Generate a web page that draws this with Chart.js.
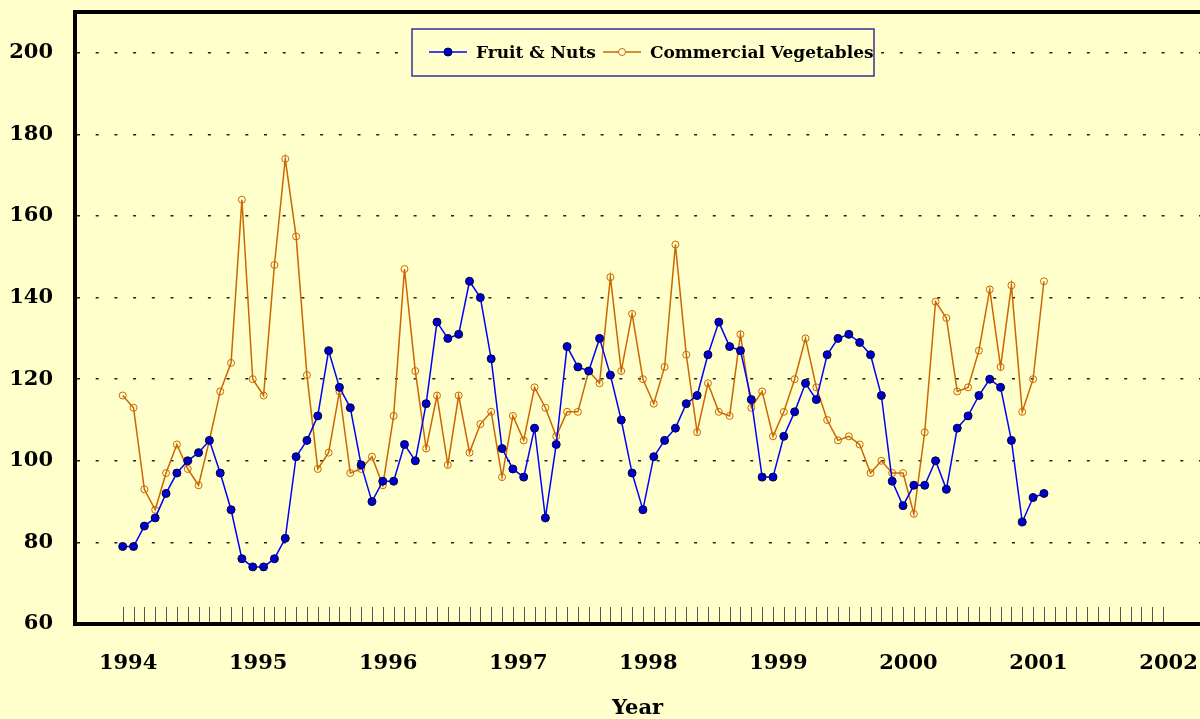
<!DOCTYPE html>
<html>
<head>
<meta charset="utf-8">
<script src="https://cdn.jsdelivr.net/npm/chart.js@4.4.0/dist/chart.umd.min.js"></script>
<style>
  html, body { margin: 0; padding: 0; background: #ffffcc; }
  #wrap { width: 1200px; height: 719px; position: relative; }
</style>
</head>
<body>
<div id="wrap"><canvas id="chart"></canvas></div>
<script>
// x = month index, 0 = Jan 1994
const yearLabels = ['1994', '1995', '1996', '1997', '1998', '1999', '2000', '2001', '2002'];
const yTicks = [60, 80, 100, 120, 140, 160, 180, 200];
const seriesNames = ['Fruit & Nuts', 'Commercial Vegetables'];

const fruitNuts = [
  79, 79, 84, 86, 92, 97, 100, 102, 105, 97, 88, 76,
  74, 74, 76, 81, 101, 105, 111, 127, 118, 113, 99, 90,
  95, 95, 104, 100, 114, 134, 130, 131, 144, 140, 125, 103,
  98, 96, 108, 86, 104, 128, 123, 122, 130, 121, 110, 97,
  88, 101, 105, 108, 114, 116, 126, 134, 128, 127, 115, 96,
  96, 106, 112, 119, 115, 126, 130, 131, 129, 126, 116, 95,
  89, 94, 94, 100, 93, 108, 111, 116, 120, 118, 105, 85,
  91, 92
];

const commercialVeg = [
  116, 113, 93, 88, 97, 104, 98, 94, 105, 117, 124, 164,
  120, 116, 148, 174, 155, 121, 98, 102, 117, 97, 98, 101,
  94, 111, 147, 122, 103, 116, 99, 116, 102, 109, 112, 96,
  111, 105, 118, 113, 106, 112, 112, 122, 119, 145, 122, 136,
  120, 114, 123, 153, 126, 107, 119, 112, 111, 131, 113, 117,
  106, 112, 120, 130, 118, 110, 105, 106, 104, 97, 100, 97,
  97, 87, 107, 139, 135, 117, 118, 127, 142, 123, 143, 112,
  120, 144
];

const FONT = '"DejaVu Serif", "Liberation Serif", serif';
const BLUE = '#0000ff';
const ORANGE = '#cc6600';

const toPoints = arr => arr.map((v, i) => ({ x: i, y: v }));

const framePlugin = {
  id: 'frame',
  beforeDraw(chart) {
    const ctx = chart.ctx;
    ctx.save();
    ctx.fillStyle = '#ffffcc';
    ctx.fillRect(0, 0, chart.width, chart.height);
    ctx.restore();
  },
  beforeDatasetsDraw(chart) {
    const { ctx, chartArea, scales } = chart;
    ctx.save();
    // monthly tick marks standing on the x axis
    ctx.strokeStyle = '#555';
    ctx.lineWidth = 1;
    for (let m = 0; m <= 96; m++) {
      const x = Math.round(scales.x.getPixelForValue(m)) + 0.5;
      ctx.beginPath();
      ctx.moveTo(x, chartArea.bottom - 2);
      ctx.lineTo(x, chartArea.bottom - 17);
      ctx.stroke();
    }
    // top frame line
    ctx.strokeStyle = '#000';
    ctx.lineWidth = 4;
    ctx.beginPath();
    ctx.moveTo(chartArea.left - 2, chartArea.top);
    ctx.lineTo(chart.width, chartArea.top);
    ctx.stroke();
    ctx.restore();
  },
  afterDraw(chart) {
    const ctx = chart.ctx;
    ctx.save();
    // legend box
    ctx.fillStyle = '#ffffcc';
    ctx.fillRect(412, 29, 462, 47);
    ctx.strokeStyle = '#333399';
    ctx.lineWidth = 1.5;
    ctx.strokeRect(412, 29, 462, 47);

    const entries = [
      { name: seriesNames[0], color: BLUE, x: 429, filled: true },
      { name: seriesNames[1], color: ORANGE, x: 603, filled: false }
    ];
    const y = 52;
    ctx.font = 'bold 17px ' + FONT;
    ctx.textBaseline = 'middle';
    entries.forEach(e => {
      ctx.strokeStyle = e.color;
      ctx.lineWidth = 1.5;
      ctx.beginPath();
      ctx.moveTo(e.x, y);
      ctx.lineTo(e.x + 38, y);
      ctx.stroke();
      ctx.beginPath();
      ctx.arc(e.x + 19, y, e.filled ? 4 : 3.5, 0, Math.PI * 2);
      if (e.filled) {
        ctx.fillStyle = '#0000cc';
        ctx.fill();
        ctx.strokeStyle = '#000044';
        ctx.lineWidth = 1;
        ctx.stroke();
      } else {
        ctx.fillStyle = '#ffffcc';
        ctx.fill();
        ctx.lineWidth = 1;
        ctx.stroke();
      }
      ctx.fillStyle = '#000';
      ctx.fillText(e.name, e.x + 47, y + 2);
    });
    ctx.restore();
  }
};

new Chart(document.getElementById('chart'), {
  type: 'line',
  data: {
    datasets: [
      {
        label: seriesNames[0],
        data: toPoints(fruitNuts),
        borderColor: BLUE,
        borderWidth: 1.5,
        pointRadius: 4,
        pointBackgroundColor: '#0000cc',
        pointBorderColor: '#000044',
        pointBorderWidth: 1,
        tension: 0
      },
      {
        label: seriesNames[1],
        data: toPoints(commercialVeg),
        borderColor: ORANGE,
        borderWidth: 1.5,
        pointRadius: 3.5,
        pointBackgroundColor: 'rgba(0,0,0,0)',
        pointBorderColor: ORANGE,
        pointBorderWidth: 1,
        tension: 0
      }
    ]
  },
  options: {
    responsive: true,
    maintainAspectRatio: false,
    animation: false,
    layout: { autoPadding: false, padding: { top: 12, left: 0, right: 0, bottom: 0 } },
    plugins: {
      legend: { display: false },
      tooltip: { enabled: false }
    },
    scales: {
      x: {
        type: 'linear',
        min: -4.4,
        max: 99.4,
        afterBuildTicks: s => { s.ticks = yearLabels.map((_, i) => ({ value: i * 12 + 0.5 })); },
        afterFit: s => { s.height = 95; s.paddingLeft = 0; s.paddingRight = 0; },
        grid: { display: false, drawTicks: false },
        border: { display: true, color: '#000', width: 4 },
        ticks: {
          autoSkip: false,
          maxRotation: 0,
          padding: 27,
          color: '#000',
          font: { family: FONT, size: 21, weight: 'bold' },
          callback: (v, i) => yearLabels[i]
        },
        title: {
          display: true,
          text: 'Year',
          color: '#000',
          font: { family: FONT, size: 21, weight: 'bold' },
          padding: { top: 0, bottom: -2 }
        }
      },
      y: {
        min: 60,
        max: 210,
        afterBuildTicks: s => { s.ticks = yTicks.map(v => ({ value: v })); },
        afterFit: s => { s.width = 75; s.paddingTop = 0; s.paddingBottom = 0; },
        grid: {
          drawTicks: false,
          color: ctx => (ctx.tick && ctx.tick.value === 60 ? 'rgba(0,0,0,0)' : '#222'),
          lineWidth: 1.5
        },
        border: { display: true, color: '#000', width: 4, dash: [3, 15.7] },
        ticks: {
          padding: 22,
          color: '#000',
          font: { family: FONT, size: 21, weight: 'bold' }
        }
      }
    }
  },
  plugins: [framePlugin]
});
</script>
</body>
</html>
